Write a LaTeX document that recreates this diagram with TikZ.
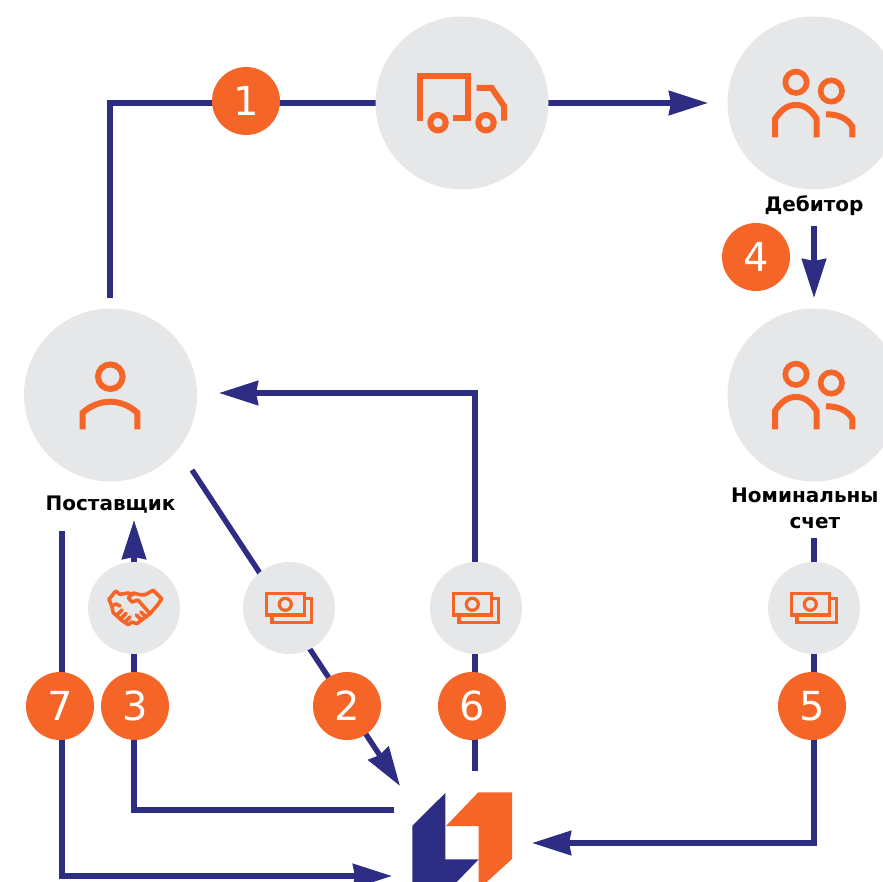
\documentclass[tikz,border=0pt]{standalone}
\usepackage{fontspec}
\setmainfont{DejaVu Sans}
\usetikzlibrary{arrows.meta}
\definecolor{navy}{HTML}{2E2D84}
\definecolor{orng}{HTML}{F46527}
\definecolor{disc}{HTML}{E6E7E9}
\tikzset{
  big/.style={circle,fill=disc,minimum size=173pt,inner sep=0pt,outer sep=0pt},
  small/.style={circle,fill=disc,minimum size=92pt,inner sep=0pt,outer sep=0pt},
  badge/.style={circle,fill=orng,minimum size=68pt,inner sep=0pt,outer sep=0pt,text=white,font=\fontsize{40}{40}\selectfont},
  lab/.style={font=\fontsize{20}{24}\selectfont\bfseries,align=center,text=black,inner sep=0pt},
  conn/.style={draw=navy,line width=5.4pt},
  tip/.style={conn,-{Stealth[length=39pt,width=24pt,inset=2pt]}},
  ico/.style={draw=orng,line width=6pt,line cap=butt,line join=miter},
  thin/.style={draw=orng,line width=3.2pt},
  hand/.style={draw=orng,line width=3.6pt,line join=round,line cap=round},
  pics/money/.style={code={
    \draw[thin] (-22.5,-14.5) rectangle (15.5,7);
    \draw[thin] (15.5,-9.3) -- (22.3,-9.3) -- (22.3,14.7) -- (-17,14.7) -- (-17,7);
    \draw[thin] (-3.7,-3.7) circle (6);
  }},
  pics/people/.style={code={
    \draw[ico,line width=5.6pt] (-18,-20.7) circle (10.7);
    \draw[ico,line width=5.6pt] (17.3,-12) circle (10.7);
    \draw[ico] (-39,34.3) -- (-39,16) .. controls (-33,7) and (-27,2) .. (-18,2) .. controls (-9,2) and (-3,7) .. (2.7,16) -- (2.7,34.3);
    \draw[ico] (12,11.3) .. controls (24,11.3) and (33,15) .. (38.3,23.7) -- (38.3,34.3);
  }}
}
\begin{document}
\begin{tikzpicture}[x=1pt,y=-1pt]
\useasboundingbox (0,0) rectangle (882,882);
\coordinate (l1s) at (110,298);
\coordinate (l1c) at (110,103);
\coordinate (l1e) at (708,103);
\coordinate (l4s) at (814,226);
\coordinate (l4e) at (814,298);
\coordinate (l6s) at (475,771);
\coordinate (l6c) at (475,393);
\coordinate (l6e) at (219,393);
\coordinate (l2s) at (192,470);
\coordinate (l2e) at (400,786);
\coordinate (l3s) at (394,810);
\coordinate (l3c) at (134,810);
\coordinate (l3e) at (134,520);
\coordinate (l7s) at (62,531);
\coordinate (l7c) at (62,876);
\coordinate (l7e) at (392,876);
\coordinate (l5s) at (814,538);
\coordinate (l5c) at (814,843);
\coordinate (l5e) at (532,843);
\draw[tip] (l1s) -- (l1c) -- (l1e);
\draw[tip] (l4s) -- (l4e);
\draw[tip] (l6s) -- (l6c) -- (l6e);
\draw[tip] (l2s) -- (l2e);
\draw[tip] (l3s) -- (l3c) -- (l3e);
\draw[tip] (l7s) -- (l7c) -- (l7e);
\draw[tip] (l5s) -- (l5c) -- (l5e);
\node[big] (truck) at (462,103) {};
\node[big] (debtor) at (814,103) {};
\node[big] (supplier) at (110.5,395) {};
\node[big] (nominal) at (814,395) {};
\node[small] (shake) at (134,608) {};
\node[small] (m2) at (289,608) {};
\node[small] (m6) at (476,608) {};
\node[small] (m5) at (814,608) {};
\node[badge] (b1) at (246,101) {\raisebox{1pt}{1}};
\node[badge] (b4) at (756,257) {\raisebox{1pt}{4}};
\node[badge] (b7) at (60,706) {\raisebox{1pt}{7}};
\node[badge] (b3) at (135,706) {\raisebox{1pt}{3}};
\node[badge] (b2) at (347,706) {\raisebox{1pt}{2}};
\node[badge] (b6) at (472,706) {\raisebox{1pt}{6}};
\node[badge] (b5) at (812,706) {\raisebox{1pt}{5}};
\node[lab] (tdebtor) at (814,206) {Дебитор};
\node[lab] (tsupplier) at (110.5,505) {Поставщик};
\node[lab,anchor=north west] (tnominal) at (731,488) {Номинальны\\[2pt]\hspace*{20pt}счет};
% truck
\draw[ico] (420.3,120.7) -- (420.3,76.3) -- (467.7,76.3) -- (467.7,117.7) -- (453,117.7);
\draw[ico] (476.7,88) -- (491.7,88) -- (504,106) -- (504,120.7);
\draw[ico] (438,122.7) circle (7.7);
\draw[ico] (486,122.7) circle (7.7);
% people
\pic at (814,103) {people};
\pic at (814,395) {people};
% supplier
\draw[ico] (110.3,376.7) circle (12.3);
\draw[ico] (82.7,429.3) -- (82.7,412.7) .. controls (90,406) and (100,401.7) .. (110.3,401.7) .. controls (120,401.7) and (130,406) .. (137.3,412.7) -- (137.3,429.3);
% money
\pic at (289,608) {money};
\pic at (476,608) {money};
\pic at (814,608) {money};
% handshake
\begin{scope}[shift={(134,608)}]
\draw[hand] (-25,-8.7) -- (-18.3,-17) -- (-14,-13.7) -- (-5.7,-15) -- (-0.7,-13.3);
\draw[hand] (-5.7,-10.3) -- (-0.7,-15) -- (6,-13.3) -- (11,-13.3) -- (19.3,-17.7) -- (27.7,-9.3) -- (23.3,-2.7) -- (16,5.7) -- (9.3,10.7) -- (2.7,15.7) -- (-2.3,14) -- (-5.7,16.7) -- (-12.3,12.3) -- (-20.7,4.7) -- (-22.3,-2) -- (-25,-8.7);
\draw[hand] (-5.7,-10.3) -- (-2,-6) -- (4,-8) -- (16,5.7);
\draw[hand] (-22.3,-2) -- (-18,-4) -- (-14,-2);
\draw[hand] (-17,7) -- (-12,2);
\draw[hand] (-13,10.5) -- (-8,5.5);
\draw[hand] (-9,14) -- (-4,9);
\draw[hand] (12,9) -- (7,4);
\draw[hand] (7.5,12) -- (2.5,7);
\end{scope}
% logo
\fill[navy] (445.3,793) -- (412.3,825.7) -- (412.3,882) -- (456.7,882) -- (478.7,859.3) -- (445.3,859.3) -- cycle;
\fill[orng] (478.3,792.3) -- (512,792.3) -- (512,859) -- (486.7,882) -- (478.7,882) -- (478.7,826) -- (446,826) -- cycle;
\end{tikzpicture}
\end{document}
